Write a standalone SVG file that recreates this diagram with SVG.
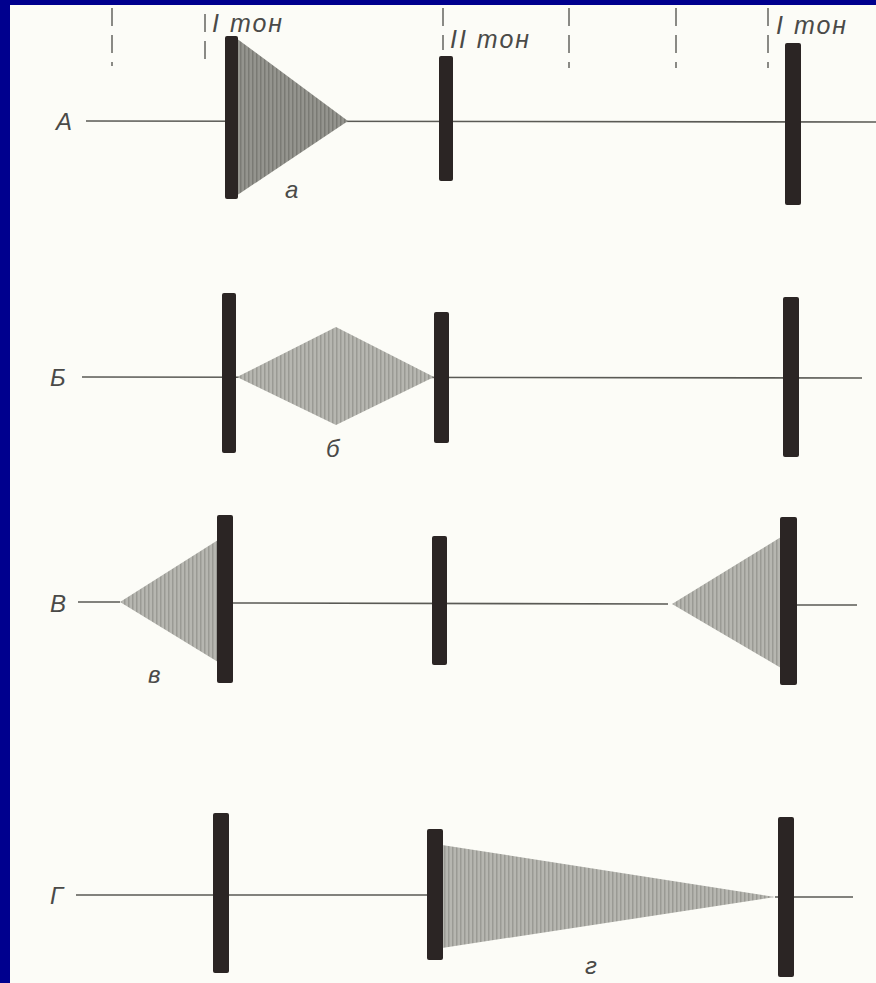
<svg xmlns="http://www.w3.org/2000/svg" width="876" height="983" viewBox="0 0 876 983">
<defs>
<pattern id="hatch" width="4" height="6" patternUnits="userSpaceOnUse">
<rect width="4" height="6" fill="#b6b6b0"/>
<rect width="1.5" height="6" fill="#9a9a94"/>
</pattern>
<pattern id="hatchDark" width="4" height="6" patternUnits="userSpaceOnUse">
<rect width="4" height="6" fill="#94948e"/>
<rect width="1.5" height="6" fill="#7a7a74"/>
</pattern>
<style>
.bar{fill:#2b2524}
.axis{stroke:#5a5a55;stroke-width:1.6;fill:none}
.dash{stroke:#8a8a85;stroke-width:2;stroke-dasharray:18 9;fill:none}
.shape{fill:url(#hatch)}
.shapeDark{fill:url(#hatchDark)}
.lbl{font-family:"Liberation Sans",Arial,sans-serif;font-style:italic;fill:#4a4a48;font-size:24px}
.tone{font-family:"Liberation Sans",Arial,sans-serif;font-style:italic;fill:#4a4a48;font-size:25px;letter-spacing:2px}
</style>
</defs>
<rect width="876" height="983" fill="#00008e"/>
<rect x="10" y="5" width="866" height="978" fill="#fcfcf7"/>

<g id="grid">
<line class="dash" x1="112" y1="8" x2="112" y2="66"/>
<line class="dash" x1="205" y1="14" x2="205" y2="66"/>
<line class="dash" x1="443" y1="8" x2="443" y2="50"/>
<line class="dash" x1="569" y1="8" x2="569" y2="68"/>
<line class="dash" x1="676" y1="8" x2="676" y2="68"/>
<line class="dash" x1="768" y1="8" x2="768" y2="68"/>
<text class="tone" x="212" y="32">I тон</text>
<text class="tone" x="450" y="48">II тон</text>
<text class="tone" x="776" y="34">I тон</text>
</g>

<g id="connectors">
<line class="axis" x1="86" y1="121" x2="876" y2="122"/>
<line class="axis" x1="82" y1="377" x2="862" y2="378"/>
<line class="axis" x1="78" y1="602" x2="120" y2="602"/>
<line class="axis" x1="230" y1="603" x2="668" y2="604"/>
<line class="axis" x1="795" y1="605" x2="857" y2="605"/>
<line class="axis" x1="76" y1="895" x2="430" y2="895"/>
<line class="axis" x1="775" y1="897" x2="853" y2="897"/>
</g>

<g id="rowA">
<text class="lbl" x="56" y="130">А</text>
<polygon class="shapeDark" points="236,38 348,121 236,196"/>
<rect class="bar" x="225" y="36" width="13" height="163" rx="2"/>
<rect class="bar" x="439" y="56" width="14" height="125" rx="2"/>
<rect class="bar" x="785" y="43" width="16" height="162" rx="2"/>
<text class="lbl" x="285" y="198">а</text>
</g>

<g id="rowB">
<text class="lbl" x="50" y="386">Б</text>
<polygon class="shape" points="237,377 336,327 434,377 336,425"/>
<rect class="bar" x="222" y="293" width="14" height="160" rx="2"/>
<rect class="bar" x="434" y="312" width="15" height="131" rx="2"/>
<rect class="bar" x="783" y="297" width="16" height="160" rx="2"/>
<text class="lbl" x="326" y="457">б</text>
</g>

<g id="rowV">
<text class="lbl" x="50" y="612">В</text>
<polygon class="shape" points="120,602 218,540 218,662"/>
<rect class="bar" x="217" y="515" width="16" height="168" rx="2"/>
<rect class="bar" x="432" y="536" width="15" height="129" rx="2"/>
<polygon class="shape" points="672,604 781,537 781,668"/>
<rect class="bar" x="780" y="517" width="17" height="168" rx="2"/>
<text class="lbl" x="148" y="683">в</text>
</g>

<g id="rowG">
<text class="lbl" x="50" y="904">Г</text>
<rect class="bar" x="213" y="813" width="16" height="160" rx="2"/>
<polygon class="shape" points="442,845 775,897 442,948"/>
<rect class="bar" x="427" y="829" width="16" height="131" rx="2"/>
<rect class="bar" x="778" y="817" width="16" height="160" rx="2"/>
<text class="lbl" x="585" y="974">г</text>
</g>
</svg>
